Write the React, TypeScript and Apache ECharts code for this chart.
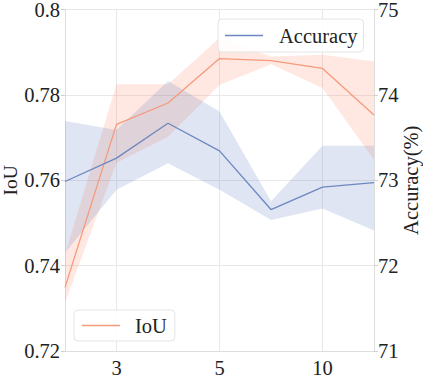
import React, { useEffect, useRef } from "react";
import * as echarts from "echarts";

const categories = ["2", "3", "4", "5", "7", "10", "15"];
const shownLabels = ["3", "5", "10"];

const iouMean = [0.7349, 0.7731, 0.7781, 0.7885, 0.788, 0.7862, 0.7753];
const iouUpper = [0.7426, 0.7825, 0.7825, 0.7933, 0.789, 0.7894, 0.7878];
const iouLower = [0.7313, 0.7641, 0.7702, 0.7823, 0.7872, 0.7816, 0.7648];

const accMean = [72.985, 73.259, 73.668, 73.344, 72.657, 72.919, 72.973];
const accUpper = [73.695, 73.59, 74.163, 73.804, 72.755, 73.403, 73.403];
const accLower = [72.15, 72.888, 73.2, 72.888, 72.533, 72.669, 72.412];

const FONT = "Liberation Serif";
const FS = 20.5;
const ORANGE = "#f59a7a";
const BLUE = "#6d87c2";

export default function App() {
  const ref = useRef<HTMLDivElement>(null);
  useEffect(() => {
    if (!ref.current) return;
    const chart = echarts.init(ref.current, undefined, { renderer: "svg" });
    const iouDiff = iouUpper.map((u, i) => +(u - iouLower[i]).toFixed(5));
    const accDiff = accUpper.map((u, i) => +(u - accLower[i]).toFixed(5));
    const showIdx = (i: number, v: string) => shownLabels.includes(v);
    chart.setOption({
      animation: false,
      backgroundColor: "#ffffff",
      grid: { left: 65, right: 49, top: 9.5, bottom: 26, containLabel: false, outerBoundsMode: "none" },
      legend: [
        {
          data: ["Accuracy"],
          left: 218,
          top: 19,
          orient: "horizontal",
          icon: "rect",
          itemWidth: 38,
          itemHeight: 1.5,
          padding: [6, 6, 6, 7],
          borderColor: "#e4e4e4",
          borderWidth: 1,
          borderRadius: 4,
          backgroundColor: "rgba(255,255,255,0.85)",
          textStyle: { fontFamily: FONT, fontSize: FS, color: "#222", padding: [0, 0, 0, 11] },
        },
        {
          data: ["IoU"],
          left: 74,
          top: 310,
          icon: "rect",
          itemWidth: 38,
          itemHeight: 1.5,
          padding: [5, 8, 5, 8],
          borderColor: "#e4e4e4",
          borderWidth: 1,
          borderRadius: 4,
          backgroundColor: "rgba(255,255,255,0.85)",
          textStyle: { fontFamily: FONT, fontSize: FS, color: "#222", padding: [0, 0, 0, 10] },
        },
      ],
      xAxis: {
        type: "category",
        data: categories,
        boundaryGap: false,
        axisLine: { show: true, lineStyle: { color: "#dedede" } },
        axisTick: { show: false },
        axisLabel: {
          interval: showIdx,
          fontFamily: FONT,
          fontSize: FS,
          color: "#222",
          margin: 6,
        },
        splitLine: { show: true, interval: showIdx, lineStyle: { color: "#e8e8e8" } },
      },
      yAxis: [
        {
          type: "value",
          min: 0.72,
          max: 0.8,
          interval: 0.02,
          name: "IoU",
          nameLocation: "middle",
          nameRotate: 90,
          nameGap: 45,
          nameMoveOverlap: false,
          nameTextStyle: { fontFamily: FONT, fontSize: 19.5, color: "#222" },
          axisLine: { show: true, lineStyle: { color: "#dedede" } },
          axisTick: { show: true, length: 4, lineStyle: { color: "#cfcfcf" } },
          axisLabel: { fontFamily: FONT, fontSize: FS, color: "#222", margin: 5 },
          splitLine: { show: true, lineStyle: { color: "#e8e8e8" } },
        },
        {
          type: "value",
          min: 71,
          max: 75,
          interval: 1,
          position: "right",
          name: "Accuracy(%)",
          nameLocation: "middle",
          nameRotate: 90,
          nameGap: 26,
          nameMoveOverlap: false,
          nameTextStyle: { fontFamily: FONT, fontSize: FS, color: "#222" },
          axisLine: { show: true, lineStyle: { color: "#dedede" } },
          axisTick: { show: true, length: 4, lineStyle: { color: "#cfcfcf" } },
          axisLabel: { fontFamily: FONT, fontSize: FS, color: "#222", margin: 4 },
          splitLine: { show: false },
        },
      ],
      series: [
        {
          name: "iouLow",
          type: "line",
          yAxisIndex: 0,
          stack: "iou",
          data: iouLower,
          symbol: "none",
          lineStyle: { opacity: 0 },
          silent: true,
          z: 1,
        },
        {
          name: "iouBand",
          type: "line",
          yAxisIndex: 0,
          stack: "iou",
          data: iouDiff,
          symbol: "none",
          lineStyle: { opacity: 0 },
          areaStyle: { color: "rgba(255,140,100,0.28)" },
          silent: true,
          z: 1,
        },
        {
          name: "accLow",
          type: "line",
          yAxisIndex: 1,
          stack: "acc",
          data: accLower,
          symbol: "none",
          lineStyle: { opacity: 0 },
          silent: true,
          z: 2,
        },
        {
          name: "accBand",
          type: "line",
          yAxisIndex: 1,
          stack: "acc",
          data: accDiff,
          symbol: "none",
          lineStyle: { opacity: 0 },
          areaStyle: { color: "rgba(76,110,180,0.25)" },
          silent: true,
          z: 2,
        },
        {
          name: "IoU",
          type: "line",
          yAxisIndex: 0,
          data: iouMean,
          symbol: "none",
          itemStyle: { color: ORANGE },
          lineStyle: { color: ORANGE, width: 1.3 },
          z: 3,
        },
        {
          name: "Accuracy",
          type: "line",
          yAxisIndex: 1,
          data: accMean,
          symbol: "none",
          itemStyle: { color: BLUE },
          lineStyle: { color: BLUE, width: 1.3 },
          z: 3,
        },
      ],
    });
    return () => chart.dispose();
  }, []);
  return <div ref={ref} style={{ width: 423, height: 377, position: "absolute", left: 0, top: 0 }} />;
}
